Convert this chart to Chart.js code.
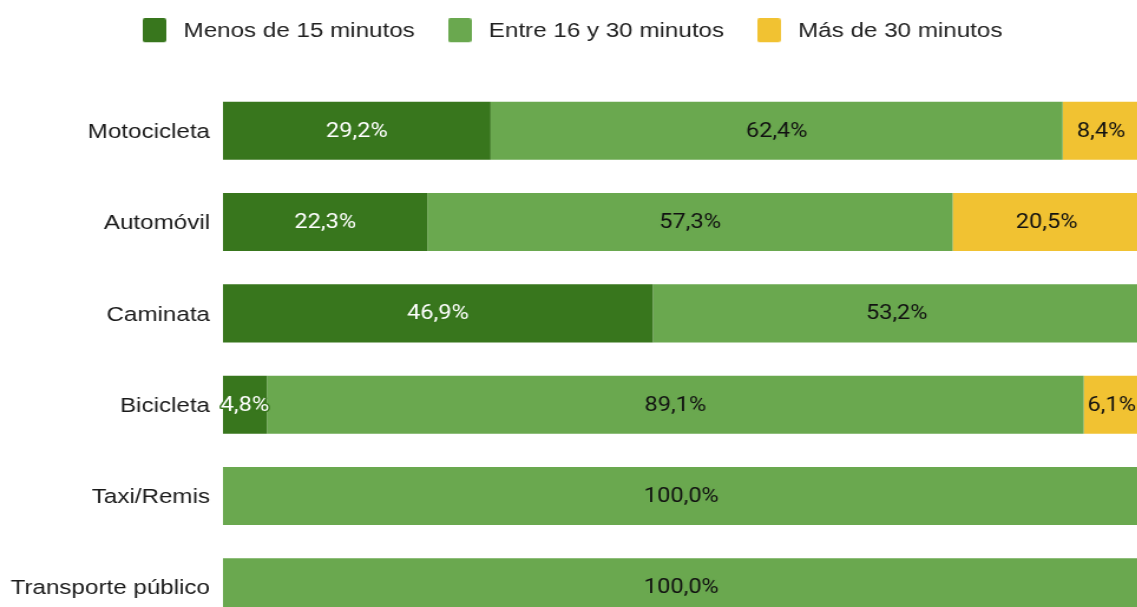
<!DOCTYPE html>
<html lang="es">
<head>
<meta charset="utf-8">
<title>Tiempo de viaje según medio de transporte</title>
<script src="https://cdn.jsdelivr.net/npm/chart.js@4.4.1/dist/chart.umd.min.js"></script>
<style>
  html, body { margin: 0; padding: 0; background: #ffffff; overflow: hidden; }
</style>
</head>
<body>
<!-- the bitmap is drawn narrower and widened by its inline CSS size -->
<canvas id="chart" width="968" height="633" style="display:block;width:1142px;height:633px"></canvas>
<script>
// Travel time by means of transport (% of trips)
const categories = ['Motocicleta', 'Automóvil', 'Caminata', 'Bicicleta', 'Taxi/Remis', 'Transporte público'];
const seriesNames = ['Menos de 15 minutos', 'Entre 16 y 30 minutos', 'Más de 30 minutos'];
const menos15 = [29.2, 22.3, 46.9, 4.8, 0, 0];
const entre16y30 = [62.4, 57.3, 53.2, 89.1, 100, 100];
const mas30 = [8.4, 20.5, 0, 6.1, 0, 0];

const seriesColors = ['#38761d', '#6aa84f', '#f1c232'];
const labelColors = ['#ffffff', '#111111', '#111111'];

// legend swatch with slightly rounded corners; the box sits in the upper
// part of the image so that it lines up with the caps of the legend text
function swatch(color) {
  const c = document.createElement('canvas');
  c.width = 20; c.height = 27;
  const g = c.getContext('2d');
  g.fillStyle = color;
  g.beginPath();
  g.roundRect(0, 0, 20, 24, 2);
  g.fill();
  return c;
}

// percentage written in the middle of every segment
const segmentLabels = {
  id: 'segmentLabels',
  afterDatasetsDraw(chart) {
    const ctx = chart.ctx;
    ctx.save();
    ctx.font = '20px Roboto';
    ctx.textAlign = 'center';
    ctx.textBaseline = 'middle';
    ctx.lineJoin = 'round';
    chart.data.datasets.forEach((ds, di) => {
      const meta = chart.getDatasetMeta(di);
      meta.data.forEach((bar, i) => {
        const v = ds.data[i];
        if (!v) return;
        const p = bar.getProps(['x', 'y', 'base'], true);
        const cx = (p.x + p.base) / 2;
        const text = v.toFixed(1).replace('.', ',') + '%';
        ctx.lineWidth = 3;
        ctx.strokeStyle = ds.backgroundColor;
        ctx.strokeText(text, cx, p.y + 1);
        ctx.fillStyle = labelColors[di];
        ctx.fillText(text, cx, p.y + 1);
      });
    });
    ctx.restore();
  }
};

const seriesValues = [menos15, entre16y30, mas30];

new Chart(document.getElementById('chart'), {
  type: 'bar',
  data: {
    labels: categories,
    datasets: seriesNames.map((name, i) => ({
      label: name,
      data: seriesValues[i],
      backgroundColor: seriesColors[i],
      borderWidth: 0,
      barPercentage: 0.636,
      categoryPercentage: 1
    }))
  },
  options: {
    indexAxis: 'y',
    responsive: false,
    devicePixelRatio: 1,
    animation: false,
    layout: { padding: { top: -2, right: 2, bottom: 0, left: 0 } },
    plugins: {
      tooltip: { enabled: false },
      legend: {
        position: 'top',
        labels: {
          usePointStyle: true,
          pointStyleWidth: 29,
          padding: 23.5,
          font: { family: 'Liberation Sans', size: 20.5 },
          color: '#222222',
          generateLabels(chart) {
            return chart.data.datasets.map((ds, i) => ({
              text: ds.label,
              fillStyle: ds.backgroundColor,
              strokeStyle: ds.backgroundColor,
              lineWidth: 0,
              pointStyle: swatch(ds.backgroundColor),
              fontColor: '#222222',
              hidden: !chart.isDatasetVisible(i),
              datasetIndex: i
            }));
          }
        }
      }
    },
    scales: {
      x: {
        stacked: true,
        min: 0,
        max: 100,
        position: 'top',
        ticks: { display: false },
        grid: { display: false, drawTicks: false },
        border: { display: false },
        afterFit(scale) { scale.height = 33.1; }
      },
      y: {
        stacked: true,
        ticks: {
          font: { family: 'Liberation Sans', size: 20.5 },
          color: '#1a1a1a',
          padding: 11,
          labelOffset: 1.5
        },
        grid: { display: false, drawTicks: false },
        border: { display: false },
        afterFit(scale) {
          scale.width = 189;
          scale.paddingTop = 0;
          scale.paddingBottom = 0;
        }
      }
    }
  },
  plugins: [segmentLabels]
});
</script>
</body>
</html>
